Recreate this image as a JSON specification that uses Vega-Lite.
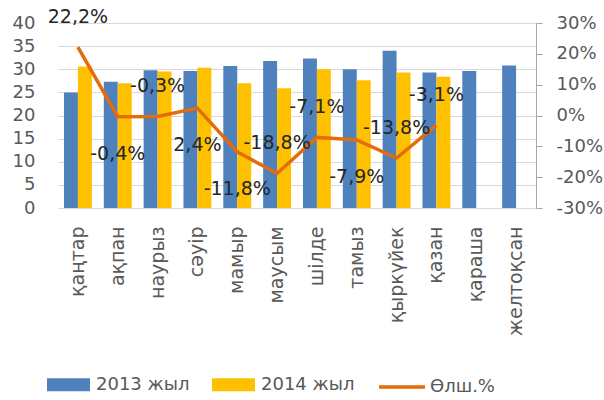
{
  "$schema": "https://vega.github.io/schema/vega-lite/v6.json",
  "width": 478,
  "height": 185,
  "autosize": {"type": "none"},
  "padding": {"left": 58, "top": 23, "right": 68, "bottom": 192},
  "background": "white",
  "config": {
    "view": {"stroke": null},
    "font": "DejaVu Sans",
    "locale": {"number": {"decimal": ",", "thousands": " ", "grouping": [3], "currency": ["", ""], "minus": "-"}}
  },
  "datasets": {
    "bars": [
      {"month": "қаңтар", "year": "2013 жыл", "value": 25.0},
      {"month": "қаңтар", "year": "2014 жыл", "value": 30.6},
      {"month": "ақпан", "year": "2013 жыл", "value": 27.3},
      {"month": "ақпан", "year": "2014 жыл", "value": 27.0},
      {"month": "наурыз", "year": "2013 жыл", "value": 29.8},
      {"month": "наурыз", "year": "2014 жыл", "value": 29.5},
      {"month": "сәуір", "year": "2013 жыл", "value": 29.6},
      {"month": "сәуір", "year": "2014 жыл", "value": 30.3},
      {"month": "мамыр", "year": "2013 жыл", "value": 30.7},
      {"month": "мамыр", "year": "2014 жыл", "value": 27.0},
      {"month": "маусым", "year": "2013 жыл", "value": 31.8},
      {"month": "маусым", "year": "2014 жыл", "value": 25.9},
      {"month": "шілде", "year": "2013 жыл", "value": 32.3},
      {"month": "шілде", "year": "2014 жыл", "value": 30.0},
      {"month": "тамыз", "year": "2013 жыл", "value": 30.0},
      {"month": "тамыз", "year": "2014 жыл", "value": 27.6},
      {"month": "қыркүйек", "year": "2013 жыл", "value": 34.0},
      {"month": "қыркүйек", "year": "2014 жыл", "value": 29.3},
      {"month": "қазан", "year": "2013 жыл", "value": 29.3},
      {"month": "қазан", "year": "2014 жыл", "value": 28.4},
      {"month": "қараша", "year": "2013 жыл", "value": 29.6},
      {"month": "желтоқсан", "year": "2013 жыл", "value": 30.8}
    ],
    "pct": [
      {"month": "қаңтар", "pct": 0.222},
      {"month": "ақпан", "pct": -0.004},
      {"month": "наурыз", "pct": -0.003},
      {"month": "сәуір", "pct": 0.024},
      {"month": "мамыр", "pct": -0.118},
      {"month": "маусым", "pct": -0.188},
      {"month": "шілде", "pct": -0.071},
      {"month": "тамыз", "pct": -0.079},
      {"month": "қыркүйек", "pct": -0.138},
      {"month": "қазан", "pct": -0.031}
    ]
  },
  "encoding": {
    "x": {
      "field": "month",
      "type": "nominal",
      "sort": ["қаңтар", "ақпан", "наурыз", "сәуір", "мамыр", "маусым", "шілде", "тамыз", "қыркүйек", "қазан", "қараша", "желтоқсан"],
      "scale": {"domain": ["қаңтар", "ақпан", "наурыз", "сәуір", "мамыр", "маусым", "шілде", "тамыз", "қыркүйек", "қазан", "қараша", "желтоқсан"], "paddingInner": 0.3, "paddingOuter": 0.15},
      "axis": {
        "title": null,
        "labelAngle": -90,
        "labelAlign": "right",
        "labelBaseline": "middle",
        "labelFontSize": 19,
        "labelColor": "#595959",
        "labelPadding": 18,
        "ticks": false,
        "domainColor": "#D9D9D9",
        "domainWidth": 1,
        "grid": false
      }
    }
  },
  "layer": [
    {
      "data": {"name": "bars"},
      "mark": {"type": "bar"},
      "encoding": {
        "xOffset": {"field": "year", "type": "nominal", "scale": {"domain": ["2013 жыл", "2014 жыл"], "paddingInner": 0, "paddingOuter": 0}},
        "y": {
          "field": "value",
          "type": "quantitative",
          "scale": {"domain": [0, 40], "nice": false},
          "axis": {
            "title": null,
            "orient": "left",
            "values": [0, 5, 10, 15, 20, 25, 30, 35, 40],
            "grid": true,
            "gridColor": "#D9D9D9",
            "domain": false,
            "ticks": false,
            "labelFontSize": 18,
            "labelColor": "#595959",
            "labelPadding": 23
          }
        },
        "color": {
          "field": "year",
          "type": "nominal",
          "scale": {"domain": ["2013 жыл", "2014 жыл"], "range": ["#4F81BD", "#FFC000"]},
          "legend": {
            "title": null,
            "orient": "none",
            "direction": "horizontal",
            "legendX": -11,
            "legendY": 340,
            "symbolType": "M-1,-0.3H1V0.3H-1Z",
            "symbolSize": 1849,
            "symbolStrokeWidth": 0,
            "labelFontSize": 18,
            "labelColor": "#595959",
            "labelOffset": 6,
            "columnPadding": 22
          }
        }
      }
    },
    {
      "data": {"name": "pct"},
      "encoding": {
        "y": {
          "field": "pct",
          "type": "quantitative",
          "scale": {"domain": [-0.3, 0.3], "nice": false},
          "axis": {
            "title": null,
            "orient": "right",
            "values": [-0.3, -0.2, -0.1, 0, 0.1, 0.2, 0.3],
            "format": ".0%",
            "grid": false,
            "domain": true,
            "domainColor": "#A6A6A6",
            "ticks": true,
            "tickSize": 6,
            "tickColor": "#A6A6A6",
            "labelFontSize": 18,
            "labelColor": "#595959",
            "labelPadding": 14
          }
        }
      },
      "layer": [
        {
          "mark": {"type": "line", "strokeWidth": 3.5},
          "encoding": {
            "stroke": {
              "datum": "Өлш.%",
              "type": "nominal",
              "scale": {"range": ["#E46C0A"]},
              "legend": {
                "title": null,
                "orient": "none",
                "legendX": 319,
                "legendY": 339,
                "symbolType": "stroke",
                "symbolSize": 2116,
                "symbolStrokeWidth": 3.5,
                "labelFontSize": 18,
                "labelColor": "#595959",
                "labelOffset": 3
              }
            }
          }
        },
        {
          "transform": [{"filter": {"field": "month", "oneOf": ["қаңтар", "наурыз", "маусым", "шілде", "қыркүйек", "қазан"]}}],
          "mark": {"type": "text", "dy": -30, "fontSize": 19, "color": "#262626"},
          "encoding": {"text": {"field": "pct", "type": "quantitative", "format": ".1%"}}
        },
        {
          "transform": [{"filter": {"field": "month", "oneOf": ["ақпан", "сәуір", "мамыр", "тамыз"]}}],
          "mark": {"type": "text", "dy": 37, "fontSize": 19, "color": "#262626"},
          "encoding": {"text": {"field": "pct", "type": "quantitative", "format": ".1%"}}
        }
      ]
    }
  ],
  "resolve": {"scale": {"y": "independent"}}
}
